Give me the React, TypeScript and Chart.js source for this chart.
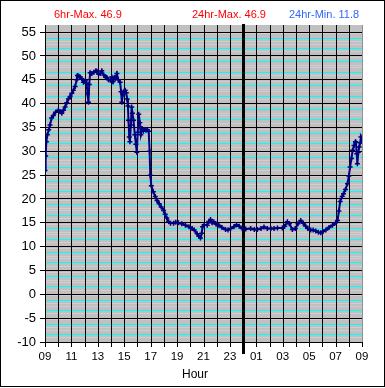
import React, { useEffect, useRef } from 'react';
import { Chart, registerables } from 'chart.js';
Chart.register(...registerables);

// hours since 09:00
const HOURS = [
  0.00, 0.05, 0.10, 0.18, 0.28, 0.38, 0.50, 0.63, 0.80, 1.01, 1.15, 1.27, 1.40, 1.52, 1.65, 1.77, 1.90, 2.03, 2.15, 2.28,
  2.40, 2.45, 2.55, 2.66, 2.78, 2.91, 3.05, 3.15, 3.22, 3.29, 3.35, 3.42, 3.55, 3.70, 3.85, 3.93, 4.05, 4.18, 4.30, 4.45,
  4.58, 4.68, 4.80, 4.94, 5.05, 5.15, 5.25, 5.32, 5.44, 5.55, 5.69, 5.76, 5.82, 5.90, 6.00, 6.07, 6.15, 6.22, 6.28, 6.32,
  6.38, 6.43, 6.50, 6.56, 6.62, 6.70, 6.80, 6.88, 6.95, 7.02, 7.10, 7.18, 7.25, 7.35, 7.45, 7.55, 7.65, 7.75, 7.85, 7.92,
  7.97, 8.05, 8.20, 8.35, 8.48, 8.65, 8.80, 8.98, 9.10, 9.22, 9.36, 9.50, 9.74, 9.90, 10.10, 10.35, 10.63, 10.90, 11.14, 11.30,
  11.52, 11.65, 11.77, 11.86, 11.93, 12.05, 12.28, 12.40, 12.53, 12.65, 12.78, 12.95, 13.16, 13.40, 13.67, 13.85, 14.05, 14.30, 14.50, 14.70,
  14.93, 15.20, 15.57, 15.85, 16.07, 16.35, 16.58, 16.83, 17.10, 17.34, 17.60, 17.97, 18.15, 18.35, 18.50, 18.73, 18.95, 19.15, 19.36, 19.55,
  19.74, 19.90, 20.12, 20.30, 20.50, 20.70, 20.88, 21.05, 21.26, 21.50, 21.77, 22.00, 22.15, 22.25, 22.35, 22.50, 22.60, 22.75, 22.90, 23.00,
  23.10, 23.20, 23.29, 23.40, 23.50, 23.54, 23.60, 23.65, 23.72, 23.79, 23.86, 23.92, 24.00,
];
const TEMPS = [
  26.0, 29.0, 32.0, 33.5, 34.5, 35.5, 37.0, 37.5, 38.2, 38.6, 38.3, 38.0, 38.6, 39.3, 40.2, 41.0, 41.5, 42.2, 42.8, 43.6,
  45.0, 45.9, 45.8, 45.6, 45.2, 44.5, 44.8, 44.3, 42.0, 40.3, 44.0, 46.5, 46.3, 46.6, 46.9, 46.8, 46.2, 46.3, 46.9, 46.0,
  45.6, 45.5, 45.0, 44.9, 45.6, 44.6, 45.5, 45.3, 46.3, 45.0, 44.5, 42.5, 40.3, 42.0, 42.6, 42.8, 42.3, 41.0, 39.5, 36.5,
  33.0, 32.0, 35.5, 39.3, 38.0, 36.5, 33.5, 31.5, 29.8, 34.0, 37.8, 36.0, 33.5, 34.8, 34.2, 34.6, 34.4, 34.5, 34.2, 30.0,
  25.0, 22.8, 21.5, 20.5, 19.7, 19.0, 18.3, 17.6, 16.8, 16.0, 15.2, 14.9, 14.9, 15.1, 15.0, 14.8, 14.5, 14.2, 13.8, 13.5,
  12.7, 12.2, 11.8, 12.8, 14.2, 14.6, 14.5, 15.3, 15.7, 15.0, 15.2, 14.7, 14.5, 14.0, 13.6, 13.5, 13.8, 14.2, 14.6, 14.3,
  13.8, 13.7, 13.8, 13.6, 13.6, 13.8, 14.1, 13.8, 13.8, 13.8, 13.9, 13.9, 14.3, 15.2, 14.8, 13.6, 13.8, 14.8, 15.5, 14.9,
  14.3, 13.8, 13.5, 13.5, 13.3, 13.0, 12.9, 13.2, 13.5, 14.0, 14.5, 15.0, 15.5, 17.5, 19.5, 20.5, 21.1, 22.0, 23.2, 24.8,
  26.7, 28.5, 30.2, 31.2, 32.0, 31.9, 29.5, 27.4, 29.8, 30.9, 31.8, 33.0, 32.5,
];

const START_HOUR = 9;
const X_MIN = 0;
const X_MAX = 24;
const Y_MIN = -10;
const Y_MAX = 56.5;
const Y_MAJOR = 5;
const MIDNIGHT = 15;

const HEADER_TEXTS = ['6hr-Max. 46.9', '24hr-Max. 46.9', '24hr-Min. 11.8'];
const X_TITLE = 'Hour';

const FONT = "'Liberation Sans', Arial, sans-serif";
const MINOR = [
  { off: 0.9, color: '#d2cbd2' },
  { off: 1.6, color: '#00ffff' },
  { off: 2.5, color: '#d2cbd2' },
  { off: 3.0, color: '#d2cbd2' },
  { off: 3.75, color: '#00ffff' },
  { off: 4.65, color: '#d2cbd2' },
];

function isMajor(v: number) {
  const r = v / Y_MAJOR;
  return Math.abs(r - Math.round(r)) < 1e-6;
}
function minorColor(v: number) {
  const base = Math.floor(v / Y_MAJOR + 1e-9) * Y_MAJOR;
  const off = v - base;
  let best = MINOR[0];
  for (const m of MINOR) if (Math.abs(m.off - off) < Math.abs(best.off - off)) best = m;
  return best.color;
}

const decorPlugin = {
  id: 'decor',
  beforeDraw(chart: any) {
    const { ctx, chartArea: a } = chart;
    ctx.save();
    ctx.fillStyle = '#ffffff';
    ctx.fillRect(0, 0, chart.width, chart.height);
    ctx.fillStyle = '#c0c0c0';
    ctx.fillRect(a.left, a.top, a.right - a.left, a.bottom - a.top);
    ctx.restore();
  },
  beforeDatasetsDraw(chart: any) {
    const { ctx, chartArea: a } = chart;
    const xs = chart.scales.x;
    ctx.save();
    for (let h = X_MIN; h <= X_MAX; h++) {
      const px = Math.round(xs.getPixelForValue(h));
      ctx.fillStyle = h === X_MAX ? '#909090' : '#000000';
      if (h === MIDNIGHT) {
        ctx.fillRect(px - 1, 24, 3, 330);
      } else {
        ctx.fillRect(px, a.top, 1, a.bottom - a.top + 5);
      }
    }
    ctx.fillStyle = '#000000';
    ctx.fillRect(Math.round(xs.getPixelForValue(X_MAX)), a.bottom, 1, 5);
    ctx.restore();
  },
  afterDraw(chart: any) {
    const { ctx } = chart;
    ctx.save();
    ctx.textBaseline = 'middle';
    ctx.textAlign = 'left';
    ctx.font = `11px ${FONT}`;
    ctx.fillStyle = '#ff0000';
    ctx.fillText(HEADER_TEXTS[0], 54, 15);
    ctx.fillText(HEADER_TEXTS[1], 192, 15);
    ctx.fillStyle = '#3366ff';
    ctx.fillText(HEADER_TEXTS[2], 289, 15);
    ctx.fillStyle = '#000000';
    ctx.font = `12px ${FONT}`;
    ctx.fillText(X_TITLE, 182, 375);
    ctx.strokeStyle = '#000000';
    ctx.lineWidth = 1;
    ctx.strokeRect(0.5, 0.5, chart.width - 1, chart.height - 2);
    ctx.restore();
  },
};

export default function App() {
  const ref = useRef<HTMLCanvasElement>(null);
  useEffect(() => {
    if (!ref.current) return;
    const data = HOURS.map((h, i) => ({ x: h, y: TEMPS[i] }));
    const chart = new Chart(ref.current, {
      type: 'line',
      data: {
        datasets: [
          {
            data,
            borderColor: '#000080',
            backgroundColor: '#000080',
            borderWidth: 2,
            pointStyle: 'cross',
            pointRadius: 2.5,
            pointBorderWidth: 1.5,
            pointBorderColor: '#000080',
            tension: 0,
            fill: false,
          },
        ],
      },
      options: {
        responsive: false,
        animation: false,
        events: [],
        layout: { padding: { top: 25, right: 23, left: 0, bottom: 0 } },
        plugins: { legend: { display: false }, tooltip: { enabled: false }, title: { display: false } },
        scales: {
          x: {
            type: 'linear',
            min: X_MIN,
            max: X_MAX,
            afterBuildTicks: (scale: any) => {
              const t = [];
              for (let h = X_MIN; h <= X_MAX; h++) t.push({ value: h });
              scale.ticks = t;
            },
            afterFit: (scale: any) => {
              scale.height = 46;
            },
            ticks: {
              autoSkip: false,
              maxRotation: 0,
              padding: 8,
              color: '#000000',
              font: { family: FONT, size: 11.5 },
              callback: (v: any) => {
                const h = Math.round(Number(v));
                if (h % 2 !== 0) return '';
                return String((START_HOUR + h) % 24).padStart(2, '0');
              },
            },
            grid: {
              drawOnChartArea: false,
              drawTicks: false,
              tickLength: 0,
            },
            border: { display: true, color: '#000000' },
          },
          y: {
            type: 'linear',
            min: Y_MIN,
            max: Y_MAX,
            afterBuildTicks: (scale: any) => {
              const t: { value: number }[] = [];
              for (let b = Y_MIN; b <= 55; b += Y_MAJOR) {
                t.push({ value: b });
                if (b < 55) for (const m of MINOR) t.push({ value: b + m.off });
              }
              t.sort((p, q) => p.value - q.value);
              scale.ticks = t;
            },
            afterFit: (scale: any) => {
              scale.width = 45;
            },
            ticks: {
              autoSkip: false,
              padding: 4,
              color: '#000000',
              font: { family: FONT, size: 13 },
              callback: (v: any) => (isMajor(Number(v)) ? String(Math.round(Number(v))) : ''),
            },
            grid: {
              color: (ctx: any) => {
                const v = ctx.tick ? ctx.tick.value : 0;
                return isMajor(v) ? '#000000' : minorColor(v);
              },
              tickColor: (ctx: any) => {
                const v = ctx.tick ? ctx.tick.value : 0;
                return isMajor(v) ? '#000000' : 'rgba(0,0,0,0)';
              },
              tickLength: 5,
              lineWidth: 1,
            },
            border: { display: true, color: '#000000' },
          },
        },
      },
      plugins: [decorPlugin],
    } as any);
    return () => chart.destroy();
  }, []);
  return (
    <div style={{ position: 'absolute', left: 0, top: 0, width: 385, height: 388 }}>
      <canvas ref={ref} width={385} height={388} style={{ width: 385, height: 388, display: 'block' }} />
    </div>
  );
}
